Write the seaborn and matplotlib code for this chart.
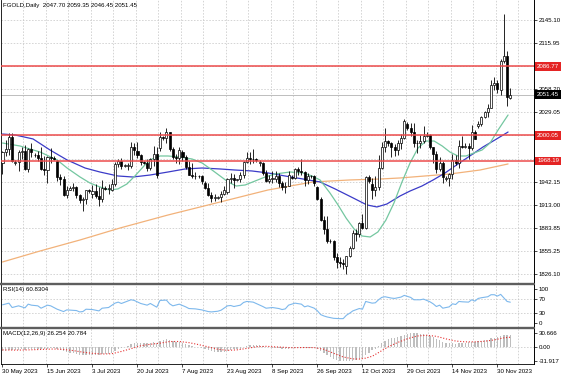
import numpy as np
import matplotlib
matplotlib.use("Agg")
import matplotlib.pyplot as plt
import matplotlib.transforms as mtransforms
from matplotlib.lines import Line2D
import seaborn as sns

# ===============================
# Data (FGOLD daily)
# ===============================
opens = [1965, 1979, 1983, 1998, 1966, 1967, 1979, 1981, 1958, 1983,
         1976, 1975, 1972, 1958, 1957, 1973, 1972, 1968, 1948, 1945,
         1925, 1932, 1934, 1935, 1925, 1919, 1920, 1931, 1927, 1930,
         1924, 1920, 1934, 1933, 1932, 1939, 1964, 1968, 1962, 1962,
         1962, 1985, 1980, 1975, 1967, 1965, 1959, 1970, 1977, 1984,
         1998, 1997, 2004, 1983, 1973, 1972, 1979, 1973, 1961, 1951,
         1949, 1949, 1949, 1940, 1934, 1925, 1922, 1922, 1923, 1927,
         1929, 1946, 1947, 1944, 1945, 1950, 1967, 1972, 1970, 1970,
         1966, 1966, 1953, 1943, 1946, 1946, 1949, 1940, 1935, 1937,
         1948, 1947, 1958, 1955, 1954, 1944, 1949, 1949, 1935, 1920,
         1894, 1883, 1868, 1867, 1847, 1841, 1840, 1836, 1849, 1859,
         1877, 1876, 1890, 1884, 1948, 1939, 1932, 1935, 1959, 1986,
         1993, 1991, 1985, 1982, 1991, 1997, 2014, 2010, 2004, 1991,
         1990, 1993, 2000, 2001, 1986, 1977, 1958, 1966, 1946, 1947,
         1952, 1969, 1965, 1987, 1986, 1987, 1984, 2004, 2012, 2014,
         2023, 2029, 2035, 2063, 2066, 2057, 2093, 2100, 2047.70]
highs = [1981, 1994, 2003, 2003, 1969, 1982, 1986, 1988, 1984, 1990,
         1978, 1980, 1986, 1974, 1974, 1984, 1974, 1969, 1952, 1949,
         1937, 1936, 1941, 1937, 1927, 1923, 1932, 1933, 1938, 1939,
         1935, 1944, 1936, 1939, 1945, 1967, 1970, 1972, 1964, 1966,
         1992, 1990, 1992, 1977, 1968, 1971, 1972, 1987, 1985, 2005,
         2000, 2009, 2005, 1986, 1977, 1985, 1982, 1975, 1968, 1965,
         1954, 1951, 1951, 1943, 1940, 1929, 1927, 1924, 1930, 1936,
         1947, 1953, 1952, 1946, 1954, 1968, 1979, 1979, 1983, 1972,
         1969, 1967, 1957, 1950, 1956, 1956, 1953, 1943, 1942, 1955,
         1950, 1959, 1961, 1971, 1956, 1953, 1951, 1951, 1936, 1923,
         1899, 1899, 1870, 1869, 1853, 1848, 1845, 1849, 1861, 1881,
         1882, 1892, 1901, 1949, 1951, 1947, 1949, 1975, 1992, 2009,
         1995, 1992, 1989, 1995, 2002, 2021, 2017, 2016, 2016, 1995,
         2001, 2012, 2004, 2002, 1986, 1980, 1973, 1968, 1949, 1953,
         1977, 1976, 1994, 2000, 1990, 1990, 2013, 2007, 2018, 2025,
         2031, 2040, 2070, 2074, 2070, 2096, 2152, 2106, 2059.35]
lows = [1952, 1974, 1975, 1967, 1963, 1956, 1971, 1957, 1954, 1973,
        1973, 1968, 1957, 1951, 1940, 1965, 1969, 1943, 1938, 1924,
        1922, 1931, 1930, 1922, 1915, 1905, 1914, 1928, 1922, 1921,
        1912, 1917, 1931, 1926, 1930, 1937, 1961, 1958, 1960, 1957,
        1959, 1976, 1972, 1963, 1964, 1955, 1957, 1962, 1947, 1981,
        1995, 1991, 1980, 1971, 1966, 1964, 1968, 1958, 1950, 1947,
        1946, 1947, 1939, 1933, 1924, 1917, 1918, 1920, 1917, 1925,
        1926, 1940, 1934, 1943, 1942, 1947, 1965, 1964, 1965, 1967,
        1962, 1951, 1942, 1941, 1941, 1942, 1935, 1932, 1928, 1936,
        1946, 1945, 1950, 1951, 1937, 1939, 1947, 1936, 1919, 1893,
        1876, 1865, 1865, 1844, 1834, 1835, 1832, 1826, 1848, 1857,
        1868, 1873, 1882, 1883, 1941, 1920, 1924, 1932, 1958, 1979,
        1987, 1973, 1974, 1976, 1983, 1996, 2007, 1999, 1986, 1978,
        1984, 1991, 1998, 1983, 1966, 1953, 1955, 1940, 1943, 1937,
        1946, 1963, 1959, 1984, 1984, 1971, 1982, 1996, 2009, 2012,
        2022, 2023, 2034, 2057, 2053, 2051, 2091, 2037, 2046.45]
closes = [1979, 1983, 1998, 1968, 1967, 1979, 1981, 1958, 1983, 1979,
          1975, 1972, 1958, 1957, 1973, 1972, 1971, 1948, 1945, 1925,
          1932, 1934, 1935, 1925, 1919, 1920, 1931, 1930, 1930, 1924,
          1920, 1934, 1933, 1934, 1939, 1964, 1968, 1962, 1962, 1962,
          1985, 1982, 1975, 1967, 1965, 1959, 1970, 1977, 1950, 1998,
          1997, 2004, 1983, 1973, 1972, 1982, 1973, 1961, 1951, 1949,
          1949, 1949, 1943, 1934, 1925, 1922, 1922, 1923, 1927, 1932,
          1946, 1947, 1944, 1945, 1950, 1967, 1972, 1970, 1970, 1969,
          1966, 1953, 1943, 1946, 1946, 1949, 1940, 1935, 1937, 1951,
          1947, 1958, 1955, 1954, 1944, 1949, 1949, 1940, 1920, 1894,
          1883, 1868, 1867, 1847, 1841, 1840, 1839, 1849, 1859, 1877,
          1876, 1890, 1884, 1948, 1943, 1932, 1935, 1959, 1986, 1993,
          1991, 1985, 1982, 1991, 1997, 2018, 2010, 2004, 1991, 1990,
          1993, 2000, 2001, 1986, 1977, 1958, 1966, 1948, 1947, 1952,
          1969, 1965, 1987, 1986, 1987, 1984, 2004, 1996, 2014, 2023,
          2029, 2035, 2063, 2066, 2058, 2093, 2100, 2048, 2051.45]

# moving averages, points (bar index, price)
ma_fast_bars = [0, 5.4, 11.7, 17, 20.1, 24.1, 27.2, 30.3, 33.4, 35.9, 38.7, 41.2,
                44.3, 46.5, 49, 51.5, 55.2, 59, 62.1, 65.2, 67.7, 70.2, 72.7, 75.5,
                78.6, 81.7, 84.8, 89.5, 93.5, 96.3, 98.8, 101.9, 104.4, 106.9, 109.4,
                111.9, 114.4, 116.8, 119.3, 121.8, 124.3, 126.8, 129.3, 131.8, 134.3,
                136.8, 139.2, 141.7, 144.2, 146.7, 149.2, 151.7, 154.2, 157.3]
ma_fast_vals = [1990.6, 1986.9, 1979.3, 1969.3, 1959.2, 1948.0, 1940.4, 1935.4, 1931.6,
                1932.9, 1939.1, 1949.2, 1963.0, 1970.5, 1974.3, 1974.3, 1973.0, 1970.5,
                1965.5, 1956.7, 1949.2, 1941.7, 1936.6, 1937.9, 1942.9, 1947.9, 1951.7,
                1954.2, 1953.0, 1949.2, 1944.2, 1927.8, 1912.8, 1896.4, 1882.6, 1873.8,
                1872.6, 1878.9, 1893.9, 1915.3, 1941.7, 1965.5, 1984.4, 1993.1, 1993.1,
                1986.9, 1979.3, 1974.3, 1974.3, 1978.1, 1981.8, 1990.6, 2007.0, 2025.8]
ma_mid_bars = [0, 3.9, 9.5, 14.8, 20.1, 25.7, 30.3, 35.9, 40.6, 45.9, 51.5, 56.8,
               62.1, 67.7, 72.3, 77.6, 82.6, 87.9, 93.5, 98.8, 103.5, 109.1, 113.4,
               116.5, 119.6, 123.7, 126.8, 130.5, 134, 137.7, 140.8, 144.5, 149.5,
               153.2, 157.3]
ma_mid_vals = [2001.9, 2000.7, 1995.7, 1981.8, 1969.3, 1959.2, 1954.2, 1949.2, 1947.9,
               1950.4, 1954.2, 1958.0, 1959.2, 1958.0, 1956.7, 1955.5, 1953.0, 1949.2,
               1945.4, 1941.7, 1932.9, 1921.6, 1912.8, 1910.3, 1914.0, 1924.1, 1930.3,
               1936.6, 1944.2, 1953.0, 1961.7, 1971.8, 1985.6, 1994.4, 2004.4]
ma_slow_bars = [0, 11.7, 24.1, 36.6, 51.5, 67.7, 82.6, 96.6, 108.1, 117.5, 123.7,
                139.2, 148.6, 157.3]
ma_slow_vals = [1841.2, 1855.0, 1868.8, 1883.9, 1900.2, 1916.5, 1931.6, 1941.7,
                1944.2, 1945.4, 1946.7, 1951.7, 1956.7, 1964.3]

# price scale: grid rows and their labels (rows under the tags show no label)
price_ticks = [2145.10, 2115.95, 2086.80, 2058.20, 2029.05, 2000.05, 1971.05,
               1942.15, 1913.00, 1883.85, 1855.25, 1826.10]
price_tick_labels = ["2145.10", "2115.95", "", "2058.20", "2029.05", "", "",
                     "1942.15", "1913.00", "1883.85", "1855.25", "1826.10"]
level_lines = [2086.77, 2000.05, 1968.19]
last_price = 2051.45

# RSI(14), points
rsi_bars = [0, 2, 3, 5, 7, 8, 9, 11, 12, 14, 15, 17, 19, 20, 23, 24, 25, 26, 28, 30,
            31, 33, 35, 36, 37, 40, 41, 43, 45, 46, 48, 49, 51, 52, 53, 55, 57, 58,
            60, 62, 64, 65, 67, 68, 70, 71, 72, 74, 75, 76, 78, 81, 82, 84, 86, 87,
            88, 89, 91, 93, 94, 95, 97, 98, 99, 100, 101, 103, 105, 106, 107, 108,
            109, 111, 112, 113, 115, 116, 117, 118, 119, 121, 122, 123, 124, 125,
            126, 127, 128, 130, 131, 133, 134, 135, 136, 137, 139, 140, 141, 142,
            143, 145, 146, 147, 148, 149, 151, 152, 153, 154, 155, 157, 158]
rsi_vals = [53, 58, 45, 50, 44, 55, 52, 50, 43, 52, 50, 40, 33, 38, 36, 32, 33, 40, 39,
            35, 43, 45, 58, 61, 57, 68, 66, 57, 52, 57, 46, 66, 67, 56, 50, 55, 47, 42,
            41, 38, 33, 32, 34, 37, 50, 51, 48, 52, 60, 63, 61, 48, 43, 45, 42, 39, 41,
            52, 58, 55, 47, 50, 43, 35, 24, 20, 17, 13, 12, 12, 22, 28, 35, 42, 40, 63,
            58, 59, 68, 75, 77, 73, 72, 74, 76, 81, 78, 75, 68, 68, 70, 62, 56, 48, 52,
            43, 47, 56, 54, 63, 62, 61, 68, 64, 72, 74, 77, 83, 83, 79, 84, 63, 60.83]

# MACD(12,26,9): main line per bar (histogram) and signal points
macd_main = [-10, -9, -7, -8, -8, -7, -6, -7, -5, -4, -4, -4, -5, -5, -4, -3, -3,
             -5, -7, -10, -12, -13, -14, -16, -18, -19, -19, -19,
             -19, -19, -19, -17, -16, -15,
             -13, -9, -5, -3, -1, 1, 5, 8,
             9, 9, 9, 8, 9, 10, 8,
             12, 14, 16, 15, 13, 11, 11,
             9, 7, 4, 2, 0, -1, -3,
             -5, -8, -10, -11, -12, -12, -11,
             -9, -7, -6, -5, -4, -1, 2, 3, 4, 4,
             4, 2, 0, -1, -2, -2, -3, -4, -5, -4,
             -3, -2, -1, -1, -2, -2, -2, -3,
             -5, -9, -13, -19, -23, -27, -30, -31, -31.5,
             -31.917, -31.5, -30.5, -29, -27, -25, -18, -13,
             -8, -4, 2, 8, 13, 16, 18, 19, 21, 23, 26,
             28, 29, 30.666, 29, 28, 27, 26, 24, 21, 17, 15, 11,
             9, 8, 8, 7, 8, 9, 9, 10, 11, 11,
             12, 13, 14, 15, 18, 20, 21, 24, 26, 26, 26.254]
signal_bars = [0, 4, 8, 12, 16, 19, 22, 25, 28, 31, 34, 37, 40, 43, 46, 49, 52, 55,
               58, 61, 64, 67, 70, 73, 76, 79, 82, 86, 90, 94, 97, 100, 103, 106, 109,
               111, 113, 115, 117, 120, 123, 126, 129, 132, 135, 138, 141, 144, 147,
               150, 153, 156, 158]
signal_vals = [-7, -7.5, -7, -6, -5, -6, -8.5, -12, -14.5, -16, -15.4, -10.4, -4.3,
               2.1, 5.3, 7.7, 11.3, 11.4, 8.9, 4.6, -0.4, -5.6, -8, -6.9, -3.8, -0.1,
               0.8, -0.8, -2.2, -1.8, -2, -5.7, -14.4, -22.5, -26.7, -27.1, -25, -21,
               -12.9, -0.3, 9.4, 17.5, 23.4, 25.1, 22.7, 17.1, 12.4, 10.6, 10.7, 11.9,
               14.9, 19.4, 20.784]

date_bars = [0, 14, 28, 42, 56, 70, 84, 98, 112, 126, 140, 154]
date_labels = ["30 May 2023", "15 Jun 2023", "3 Jul 2023", "20 Jul 2023",
               "7 Aug 2023", "23 Aug 2023", "8 Sep 2023", "26 Sep 2023",
               "12 Oct 2023", "29 Oct 2023", "14 Nov 2023", "30 Nov 2023"]

# ===============================
# Figure layout (pixel boxes)
# ===============================
sns.set_theme(style="white")
plt.rcParams["font.family"] = ["Liberation Sans", "DejaVu Sans"]
FS = 4.4
W, H = 564, 376
GRID = "#C4C4C4"
DASH = (0, (2.2, 2.2))

fig = plt.figure(figsize=(W / 100, H / 100), dpi=100)
fig.patch.set_facecolor("white")


def box(x0, y0, x1, y1):
    return [x0 / W, 1 - y1 / H, (x1 - x0) / W, (y1 - y0) / H]


ax = fig.add_axes(box(0.5, 0, 534, 283))
ax_rsi = fig.add_axes(box(0.5, 284, 534, 327))
ax_macd = fig.add_axes(box(0.5, 328, 534, 364))

XLIM = (-0.62, 165.37)
grid_bars = np.arange(6.5, 166, 7)

for a in (ax, ax_rsi, ax_macd):
    a.set_facecolor("white")
    a.set_xlim(*XLIM)
    for g in grid_bars:
        a.axvline(g, color=GRID, lw=0.5, ls=DASH, zorder=0)
    a.spines["top"].set_visible(False)
    a.spines["bottom"].set_visible(False)
    a.spines["left"].set_color("black")
    a.spines["left"].set_linewidth(0.6)
    a.spines["right"].set_color("black")
    a.spines["right"].set_linewidth(0.7)
    a.yaxis.tick_right()
    a.tick_params(axis="y", labelsize=FS, length=2, width=0.5, pad=1.2,
                  colors="black", right=True, left=False)
    a.tick_params(axis="x", length=0, labelbottom=False)

# ===============================
# Main price panel
# ===============================
ax.set_ylim(1814.8, 2170.2)
ax.set_yticks(price_ticks)
ax.set_yticklabels(price_tick_labels)
for v in price_ticks:
    ax.axhline(v, color=GRID, lw=0.5, ls=DASH, zorder=0)

idx = np.arange(len(closes))
o = np.array(opens, dtype=float)
c = np.array(closes, dtype=float)
hi = np.array(highs, dtype=float)
lo = np.array(lows, dtype=float)
up = c >= o
body_lo = np.minimum(o, c)
body_h = np.maximum(np.abs(c - o), 0.7)

ax.vlines(idx, lo, hi, color="black", lw=0.6, zorder=3)
ax.bar(idx[up], body_h[up], bottom=body_lo[up], width=0.64, color="white",
       edgecolor="black", linewidth=0.5, zorder=4)
ax.bar(idx[~up], body_h[~up], bottom=body_lo[~up], width=0.64, color="black",
       edgecolor="black", linewidth=0.5, zorder=4)

sns.lineplot(x=ma_slow_bars, y=ma_slow_vals, ax=ax, color="#F2B27A", lw=0.9,
             sort=False, zorder=2)
sns.lineplot(x=ma_mid_bars, y=ma_mid_vals, ax=ax, color="#3B3BC8", lw=0.9,
             sort=False, zorder=2)
sns.lineplot(x=ma_fast_bars, y=ma_fast_vals, ax=ax, color="#74C7A0", lw=0.9,
             sort=False, zorder=2)

for v in level_lines:
    ax.axhline(v, color="#EC4B4B", lw=1.1, zorder=5)
ax.axhline(last_price, color="#BDBDBD", lw=0.7, zorder=1)

trans = mtransforms.blended_transform_factory(ax.transAxes, ax.transData)
for v in level_lines:
    ax.text(1.006, v, f"{v:.2f}", transform=trans, ha="left", va="center",
            fontsize=FS, color="white", clip_on=False, zorder=10,
            bbox=dict(boxstyle="square,pad=0.3", fc="#E42424", ec="none"))
ax.text(1.006, last_price, f"{last_price:.2f}", transform=trans, ha="left",
        va="center", fontsize=FS, color="white", clip_on=False, zorder=10,
        bbox=dict(boxstyle="square,pad=0.3", fc="black", ec="none"))

ax.set_xlabel("")
ax.set_ylabel("")
fig.text(3 / W, 1 - 5.5 / H, "FGOLD,Daily  2047.70 2059.35 2046.45 2051.45",
         fontsize=FS, ha="left", va="center", color="black")

# ===============================
# RSI panel
# ===============================
ax_rsi.set_ylim(-12.8, 114.8)
ax_rsi.set_yticks([100, 70, 30, 0])
ax_rsi.set_yticklabels(["100", "70", "30", "0"])
for v in (70, 30):
    ax_rsi.axhline(v, color=GRID, lw=0.5, ls=DASH, zorder=0)
sns.lineplot(x=rsi_bars, y=rsi_vals, ax=ax_rsi, color="#7DB8EC", lw=0.8, sort=False)
ax_rsi.set_xlabel("")
ax_rsi.set_ylabel("")
fig.text(3 / W, 1 - 290 / H, "RSI(14) 60.8304", fontsize=FS, ha="left",
         va="center", color="black")

# ===============================
# MACD panel
# ===============================
ax_macd.set_ylim(-37.9, 40.95)
ax_macd.set_yticks([30.666, 0, -31.917])
ax_macd.set_yticklabels(["30.666", "0.00", "-31.917"])
ax_macd.axhline(0, color=GRID, lw=0.5, ls=DASH, zorder=0)
ax_macd.bar(idx, macd_main, width=0.42, color="#BEBEBE", linewidth=0, zorder=2)
ax_macd.plot(signal_bars, signal_vals, color="#E53030", lw=0.8,
             ls=(0, (1, 1.6)), zorder=3)
ax_macd.spines["bottom"].set_visible(True)
ax_macd.spines["bottom"].set_color("black")
ax_macd.spines["bottom"].set_linewidth(0.6)
ax_macd.set_xticks(date_bars)
ax_macd.set_xticklabels(date_labels)
ax_macd.tick_params(axis="x", labelbottom=True, labelsize=FS, length=2, width=0.5,
                    pad=1.5, colors="black", bottom=True)
for lbl in ax_macd.get_xticklabels():
    lbl.set_ha("left")
fig.text(3 / W, 1 - 333 / H, "MACD(12,26,9) 26.254 20.784", fontsize=FS,
         ha="left", va="center", color="black")

# panel separators
for ysep in (283.6, 327.6):
    fig.add_artist(Line2D([0, 534 / W], [1 - ysep / H] * 2, lw=1.7,
                          color="#5E5E5E"))

fig.savefig("out.png", dpi=100)
